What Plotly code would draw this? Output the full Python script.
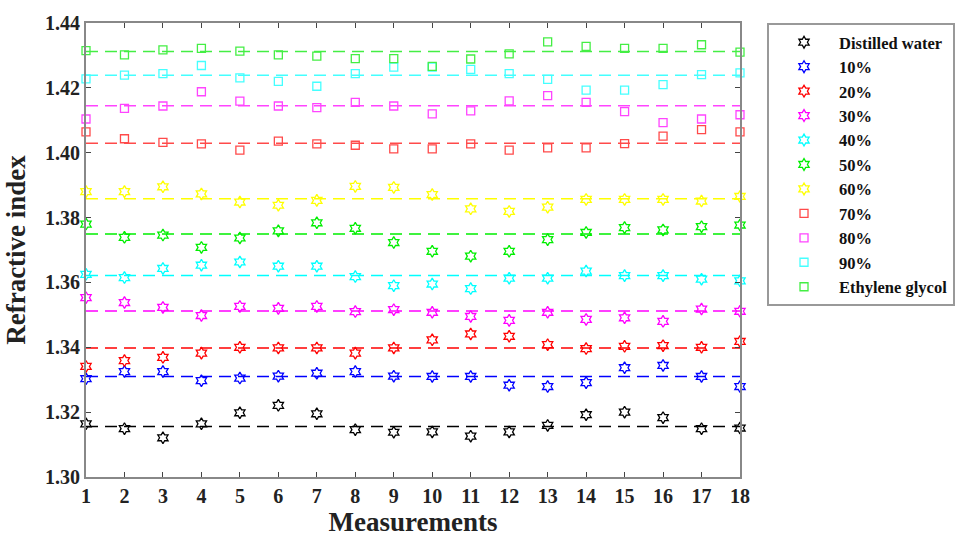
import plotly.graph_objects as go

measurements = list(range(1, 18 + 1))

series_names = ["Distilled water", "10%", "20%", "30%", "40%", "50%",
                "60%", "70%", "80%", "90%", "Ethylene glycol"]

distilled_water = [1.3164, 1.3149, 1.3121, 1.3164, 1.3198, 1.3221, 1.3195, 1.3146, 1.3138,
                   1.3139, 1.3126, 1.3139, 1.3159, 1.3192, 1.3200, 1.3183, 1.3149, 1.3151]
pct10 = [1.3303, 1.3325, 1.3325, 1.3297, 1.3305, 1.3311, 1.3320, 1.3325, 1.3311,
         1.3310, 1.3310, 1.3283, 1.3279, 1.3291, 1.3337, 1.3344, 1.3310, 1.3279]
pct20 = [1.3341, 1.3359, 1.3369, 1.3382, 1.3400, 1.3398, 1.3398, 1.3382, 1.3398,
         1.3423, 1.3441, 1.3434, 1.3408, 1.3396, 1.3403, 1.3405, 1.3400, 1.3418]
pct30 = [1.3553, 1.3538, 1.3523, 1.3498, 1.3526, 1.3520, 1.3526, 1.3510, 1.3516,
         1.3508, 1.3495, 1.3483, 1.3508, 1.3486, 1.3491, 1.3480, 1.3518, 1.3511]
pct40 = [1.3625, 1.3615, 1.3643, 1.3653, 1.3663, 1.3650, 1.3650, 1.3618, 1.3590,
         1.3595, 1.3581, 1.3613, 1.3613, 1.3635, 1.3621, 1.3621, 1.3610, 1.3605]
pct50 = [1.3780, 1.3739, 1.3746, 1.3708, 1.3737, 1.3759, 1.3784, 1.3767, 1.3723,
         1.3696, 1.3681, 1.3696, 1.3732, 1.3754, 1.3769, 1.3762, 1.3772, 1.3777]
pct60 = [1.3880, 1.3880, 1.3895, 1.3873, 1.3848, 1.3838, 1.3853, 1.3896, 1.3893,
         1.3871, 1.3827, 1.3819, 1.3832, 1.3856, 1.3856, 1.3856, 1.3851, 1.3865]
pct70 = [1.4064, 1.4043, 1.4032, 1.4027, 1.4008, 1.4036, 1.4027, 1.4023, 1.4012,
         1.4012, 1.4027, 1.4008, 1.4015, 1.4015, 1.4028, 1.4051, 1.4071, 1.4064]
pct80 = [1.4104, 1.4137, 1.4144, 1.4188, 1.4159, 1.4144, 1.4139, 1.4155, 1.4144,
         1.4120, 1.4129, 1.4160, 1.4176, 1.4155, 1.4127, 1.4093, 1.4104, 1.4117]
pct90 = [1.4228, 1.4239, 1.4244, 1.4269, 1.4231, 1.4220, 1.4205, 1.4244, 1.4264,
         1.4264, 1.4257, 1.4244, 1.4226, 1.4193, 1.4193, 1.4210, 1.4241, 1.4246]
ethylene_glycol = [1.4315, 1.4302, 1.4317, 1.4322, 1.4313, 1.4302, 1.4298, 1.4290, 1.4290,
                   1.4266, 1.4289, 1.4305, 1.4342, 1.4328, 1.4322, 1.4322, 1.4333, 1.4310]

mean_levels = [1.3156, 1.3310, 1.3398, 1.3512, 1.3621, 1.3749,
               1.3858, 1.4029, 1.4145, 1.4239, 1.4312]

y_tick_values = [1.30, 1.32, 1.34, 1.36, 1.38, 1.40, 1.42, 1.44]
y_tick_labels = ["1.30", "1.32", "1.34", "1.36", "1.38", "1.40", "1.42", "1.44"]

colors = ["#000000", "#0000ff", "#ff0000", "#ff00ff", "#00ffff", "#00ee00",
          "#ffff00", "#ff4a4a", "#ff44ff", "#44ffff", "#44ee44"]
symbols = ["hexagram-open"] * 7 + ["square-open"] * 4
sizes = [9] * 7 + [8] * 4

all_series = [distilled_water, pct10, pct20, pct30, pct40, pct50,
              pct60, pct70, pct80, pct90, ethylene_glycol]

SERIF = "Liberation Serif, Times New Roman, serif"

fig = go.Figure()

for vals, col, level in zip(all_series, colors, mean_levels):
    fig.add_trace(go.Scatter(
        x=[measurements[0], measurements[-1]], y=[level, level], mode="lines",
        line=dict(color=col, width=1.5, dash="12px,7px"),
        showlegend=False, hoverinfo="skip"))

for name, vals, col, sym, sz in zip(series_names, all_series, colors, symbols, sizes):
    fig.add_trace(go.Scatter(
        x=measurements, y=vals, mode="markers", name=name,
        marker=dict(symbol=sym, size=sz, color=col, line=dict(color=col, width=1.3)),
        cliponaxis=False))

axis_font = dict(family=SERIF, size=20, color="#222222", weight="bold")
title_font = dict(family=SERIF, size=27, color="#222222", weight="bold")

fig.update_xaxes(
    range=[1, 18], tickmode="array", tickvals=measurements,
    ticks="inside", ticklen=5, tickcolor="#444444", tickwidth=1,
    showline=True, linecolor="#888888", linewidth=2, mirror="allticks",
    showgrid=False, zeroline=False, tickfont=axis_font,
    title=dict(text="Measurements", font=title_font, standoff=2))
fig.update_yaxes(
    range=[1.30, 1.44], tickmode="array",
    tickvals=y_tick_values, ticktext=y_tick_labels,
    ticks="inside", ticklen=5, tickcolor="#444444", tickwidth=1,
    showline=True, linecolor="#888888", linewidth=2, mirror="allticks",
    showgrid=False, zeroline=False, tickfont=axis_font,
    title=dict(text="Refractive index", font=title_font, standoff=12))

fig.update_layout(
    width=974, height=540,
    font=dict(family=SERIF),
    margin=dict(l=86, r=234, t=17, b=63),
    paper_bgcolor="white", plot_bgcolor="white",
    legend=dict(x=1.0413, y=1.0, xanchor="left", yanchor="top",
                bordercolor="#999999", borderwidth=2, bgcolor="white",
                font=dict(family=SERIF, size=16.5, color="#111111", weight="bold"),
                tracegroupgap=0, itemwidth=60, entrywidth=270),
)

fig.write_html("out.html")
